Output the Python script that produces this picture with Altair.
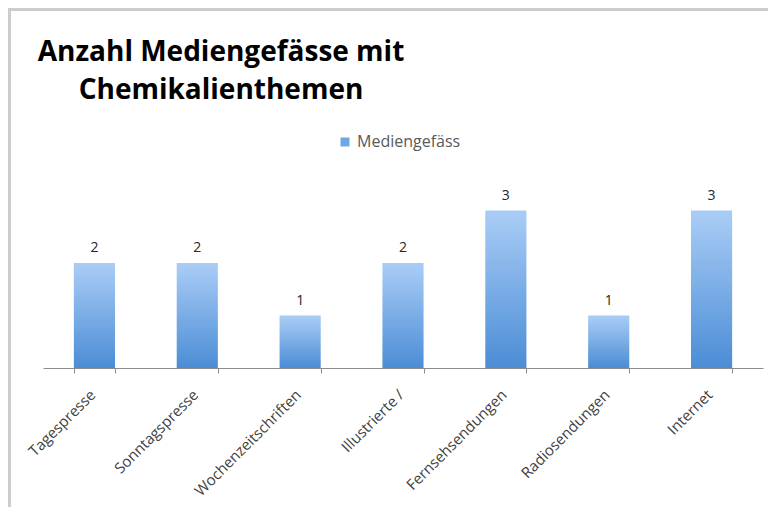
import altair as alt
import pandas as pd

categories = ["Tagespresse", "Sonntagspresse", "Wochenzeitschriften", "Illustrierte /",
              "Fernsehsendungen", "Radiosendungen", "Internet"]
values = [2, 2, 1, 2, 3, 1, 3]
series_name = "Mediengefäss"
title_lines = ["Anzahl Mediengefässe mit", "Chemikalienthemen"]

df = pd.DataFrame({"Kategorie": categories, "Anzahl": values, "Serie": [series_name] * len(categories)})

FONT = "Open Sans"
x_enc = alt.X("Kategorie:N", sort=categories,
              scale=alt.Scale(paddingInner=0.6, paddingOuter=0.3),
              axis=alt.Axis(title=None, labelAngle=-45, labelFontSize=15, labelColor="#404040",
                            labelFont=FONT, tickBand="extent", tickSize=5, tickColor="#8c8c8c",
                            domainColor="#8c8c8c", labelPadding=14, labelOffset=-7, grid=False))
y_enc = alt.Y("Anzahl:Q", scale=alt.Scale(domain=[0, 4]), axis=None)

grad = alt.Gradient(gradient="linear",
                    stops=[alt.GradientStop(color="#aacdf6", offset=0),
                           alt.GradientStop(color="#4b8dd6", offset=1)],
                    x1=0, x2=0, y1=0, y2=1)

bars = alt.Chart(df).mark_bar(color=grad).encode(x=x_enc, y=y_enc)

labels = alt.Chart(df).mark_text(baseline="alphabetic", dy=-11, fontSize=14, font=FONT,
                                 color="#262626").encode(x=x_enc, y=y_enc, text="Anzahl:Q")

legend_layer = alt.Chart(df).mark_square(size=0, opacity=1).encode(
    x=x_enc, y=y_enc,
    color=alt.Color("Serie:N", scale=alt.Scale(range=["#6ea6e6"]),
                    legend=alt.Legend(orient="none", legendX=294, legendY=-24, title=None,
                                      symbolType="square", symbolSize=81, symbolOpacity=1,
                                      labelFontSize=16, labelFont=FONT, labelColor="#595959",
                                      padding=0, symbolStrokeWidth=0)))

t1 = alt.Chart(pd.DataFrame({"t": [title_lines[0]]})).mark_text(
    font=FONT, fontSize=28, fontWeight="bold", color="#000000", align="center",
    baseline="alphabetic").encode(x=alt.value(178), y=alt.value(-97), text="t:N")
t2 = alt.Chart(pd.DataFrame({"t": [title_lines[1]]})).mark_text(
    font=FONT, fontSize=28, fontWeight="bold", color="#000000", align="center",
    baseline="alphabetic").encode(x=alt.value(178), y=alt.value(-59), text="t:N")

border_top = alt.Chart(pd.DataFrame({"b": [0]})).mark_rule(color="#cccccc", strokeWidth=3).encode(
    x=alt.value(-35), x2=alt.value(725), y=alt.value(-148.5))
border_left = alt.Chart(pd.DataFrame({"b": [0]})).mark_rule(color="#cccccc", strokeWidth=3).encode(
    x=alt.value(-33.5), y=alt.value(-150), y2=alt.value(349))

chart = alt.layer(border_top, border_left, bars, labels, legend_layer, t1, t2).properties(
    width=720, height=210,
    background="white",
    autosize=alt.AutoSizeParams(type="none"),
    padding={"left": 35, "top": 150, "right": 5, "bottom": 139},
).configure_view(strokeWidth=0, stroke=None)

chart.save("out.html", embed_options={"renderer": "svg", "actions": False})
